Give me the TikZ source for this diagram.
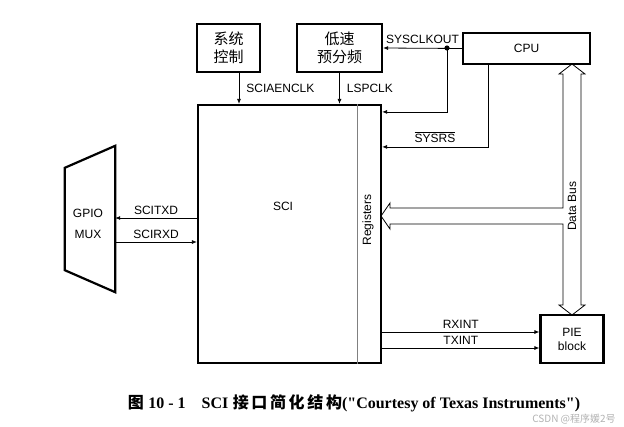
\documentclass[tikz,border=0pt]{standalone}
\usepackage{fontspec}
\setmainfont{Liberation Sans}
\newfontfamily\cjk{Noto Sans CJK SC}
\newfontfamily\capfont{Liberation Serif}
\usepackage{tikz}
\usetikzlibrary{arrows.meta,positioning,calc}

\begin{document}
\begin{tikzpicture}[
    x=1pt, y=-1pt,
    every node/.style={font=\fontsize{12}{14}\selectfont, inner sep=1pt, align=center},
    blk/.style={rectangle, draw, line width=2.2pt, minimum width=#1},
    sig/.style={-{Latex[length=5pt,width=4pt]}, line width=0.8pt},
    cn/.style={font=\cjk\fontsize{15}{18}\selectfont}
]
    \useasboundingbox (0,0) rectangle (624,426);

    % main blocks
    \node[blk=183pt, minimum height=258pt] (sci) at (289.5,234) {};
    \node (scilbl) at (283,206) {SCI};
    \node[rotate=90] (regs) at (368,220) {Registers};
    \node[blk=63pt, minimum height=48pt, cn] (sysctl) at (228.5,48) {系统\\控制};
    \node[blk=85pt, minimum height=48pt, cn] (lsp) at (339.5,48) {低速\\预分频};
    \node[blk=127pt, minimum height=31pt] (cpu) at (526.5,48.5) {CPU};
    \node[blk=63pt, minimum height=48pt] (pie) at (572,339) {PIE\\block};
    \node[minimum width=50pt, minimum height=146pt] (mux) at (90,219) {};
    \node (muxlbl) at (88,224) {GPIO\\[7pt]MUX};

    \draw[line width=0.5pt, gray] ([xshift=-25pt]sci.north east) -- ([xshift=-25pt]sci.south east);
    \draw[line width=2.2pt] (mux.north east) -- (mux.south east) -- ([yshift=22pt]mux.south west)
        -- ([yshift=-22pt]mux.north west) -- cycle;

    % clocks and reset
    \draw[sig] ([xshift=10.5pt]sysctl.south) -- ([xshift=10.5pt]sysctl.south |- sci.north)
        node[midway, right=6pt] {SCIAENCLK};
    \draw[sig] (lsp.south) -- (lsp.south |- sci.north) node[midway, right=6pt] {LSPCLK};
    \coordinate (clkdot) at (447,48);
    \draw[sig] (cpu.west) -- (lsp.east) node[midway, above=3pt] {SYSCLKOUT};
    \fill (clkdot) circle (2.6pt);
    \draw[sig] (clkdot) |- ([yshift=-8pt]sci.north east);
    \draw[sig] ([xshift=-38.5pt]cpu.south) |- ([yshift=-43pt]sci.north east)
        node[pos=0.75, above=3pt] {$\overline{\mbox{SYSRS}}$};

    % data bus
    \draw[line width=0.8pt] (572,64) -- (585,74) -- (581,74) -- (581,305) -- (585,305) -- (572,315)
        -- (559,305) -- (563,305) -- (563,224) -- (390,224) -- (390,229) -- (381,216) -- (390,203)
        -- (390,208) -- (563,208) -- (563,74) -- (559,74) -- cycle;
    \node[rotate=90] (buslbl) at (572,206) {Data Bus};

    % serial lines
    \draw[sig] ([yshift=16pt]sci.west) -- ([yshift=16pt]sci.west -| mux.east)
        node[midway, above=2pt] {SCITXD};
    \draw[sig] ([yshift=-8pt]sci.west -| mux.east) -- ([yshift=-8pt]sci.west)
        node[midway, above=2pt] {SCIRXD};

    % interrupts
    \draw[sig] ([yshift=-98pt]sci.east) -- ([yshift=-98pt]sci.east -| pie.west)
        node[midway, above=2pt] {RXINT};
    \draw[sig] ([yshift=-114pt]sci.east) -- ([yshift=-114pt]sci.east -| pie.west)
        node[midway, above=2pt] {TXINT};

    % caption
    \node (cap) at (354,403) {\fontsize{16}{18}\selectfont{\cjk\bfseries 图} {\capfont\bfseries 10 - 1}\hspace{16pt}{\capfont\bfseries SCI} {\cjk\bfseries 接\,口\,简\,化\,结\,构}{\capfont\bfseries ("Courtesy of Texas Instruments")}};
    \node[text=gray!60, font=\cjk\fontsize{10}{12}\selectfont] (mark) at (574,419) {CSDN @程序媛2号};
\end{tikzpicture}
\end{document}
